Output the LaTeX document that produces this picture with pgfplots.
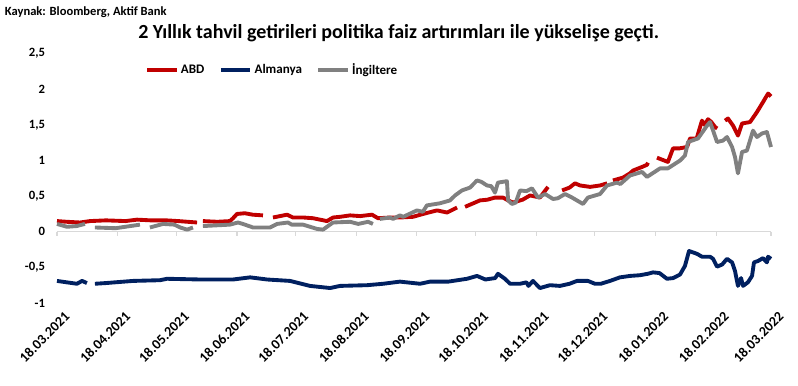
\documentclass[border=0pt]{standalone}
\usepackage{fontspec}
\setmainfont{Carlito}
\usepackage{pgfplots}
\pgfplotsset{compat=1.18}
\definecolor{abd}{RGB}{192,0,0}
\definecolor{alm}{RGB}{0,32,96}
\definecolor{ing}{RGB}{128,128,128}
\definecolor{zline}{RGB}{217,217,217}
\begin{document}
\begin{tikzpicture}
\useasboundingbox (0,0) rectangle (598.5pt,288.75pt);
\node[anchor=west, inner sep=0pt, font=\bfseries\fontsize{9.4}{10}\selectfont] at (3.5pt,279.5pt) {Kaynak: Bloomberg, Aktif Bank};
\node[inner sep=0pt, font=\bfseries\fontsize{15}{17}\selectfont] at (299pt,264pt) {2 Yıllık tahvil getirileri politika faiz artırımları ile yükselişe geçti.};
\begin{axis}[
  at={(42.75pt,61.5pt)}, anchor=south west,
  scale only axis, width=535.5pt, height=187pt,
  xmin=0, xmax=365, ymin=-1, ymax=2.5,
  axis line style={draw=none},
  major tick length=0pt,
  ytick={-1,-0.5,0,0.5,1,1.5,2,2.5},
  yticklabel style={font=\bfseries\fontsize{9.5}{11}\selectfont, xshift=-5.5pt},
  /pgf/number format/.cd, use comma, assume math mode=true, /pgfplots/.cd,
  xtick={0,31,61,92,122,153,184,214,245,275,306,337,365},
  xticklabels={18.03.2021,18.04.2021,18.05.2021,18.06.2021,18.07.2021,18.08.2021,18.09.2021,18.10.2021,18.11.2021,18.12.2021,18.01.2022,18.02.2022,18.03.2022},
  xticklabel style={font=\bfseries\fontsize{10.5}{12}\selectfont, rotate=45, anchor=north east, inner sep=1pt, xshift=0.5pt, yshift=-6.5pt},
  unbounded coords=jump,
  clip=false,
  legend style={at={(0.118,0.934)}, anchor=west, draw=none, fill=none, legend columns=3,
    font=\bfseries\fontsize{9.8}{11}\selectfont,
    /tikz/every even column/.append style={column sep=9pt}},
  legend image code/.code={\draw[#1, line width=2.6pt] (0pt,0pt) -- (22pt,0pt);},
]
\draw[zline, line width=0.8pt] (axis cs:0,0) -- (axis cs:365,0);
\pgfplotsinvokeforeach{0,31,61,92,122,153,184,214,245,275,306,337,365}{
  \draw[zline, line width=0.8pt] (axis cs:#1,0) -- ++(0pt,-3pt);
}
\addplot[abd, line width=2.9pt, line join=round] coordinates {
(0,0.15) (5,0.14) (11.8,0.13) (16.9,0.15) (25,0.16) (35,0.15) (40.9,0.17) (48,0.16) (56,0.16) (62,0.15) (71.6,0.13)
(72,nan)
(74.6,0.15) (82,0.14) (88.4,0.15) (90,0.19) (92,0.25) (96,0.26) (100,0.24) (105.3,0.23)
(107,nan)
(110.4,0.20) (114,0.22) (117.6,0.24) (120.6,0.20) (126,0.20) (130.9,0.19) (138,0.15) (141.1,0.20) (144.7,0.21) (149.8,0.23) (155,0.22) (161,0.24) (164.1,0.19) (170.2,0.20) (175.3,0.20) (182,0.21) (187.1,0.25) (194.3,0.30) (199.4,0.27) (204.5,0.34)
(206,nan)
(208.6,0.35) (216.2,0.44) (220,0.45) (223.9,0.48) (228,0.48) (230.6,0.44) (233.1,0.41) (238,0.45) (241.8,0.51) (246.9,0.48) (251,0.63)
(254,nan)
(258.2,0.58) (262,0.62) (264.8,0.68) (267.4,0.65) (272.5,0.63) (277.6,0.65) (281.2,0.68)
(282.5,nan)
(284.2,0.72) (289.3,0.76) (292.9,0.82) (294.5,0.86) (299.1,0.91) (301.6,0.94) (302.1,0.97)
(304,nan)
(306.7,1.04) (312.3,0.98) (314.9,1.17) (318,1.17) (322.1,1.19) (323.6,1.31) (327,1.31) (329.7,1.56) (331,1.50) (332.8,1.58) (334.5,1.54) (336.4,1.47) (337.5,1.45)
(339,nan)
(341.5,1.56) (343,1.59) (345.6,1.49) (348.1,1.35) (350.2,1.52) (354.3,1.54) (357.8,1.68) (360.9,1.82) (363.5,1.94) (365,1.90)
};
\addlegendentry{ABD}
\addplot[alm, line width=2.9pt, line join=round] coordinates {
(0,-0.69) (5,-0.71) (10.2,-0.73) (12.8,-0.69) (15.3,-0.72)
(17,nan)
(19.4,-0.73) (25,-0.72) (38.9,-0.69) (52.7,-0.68) (56.2,-0.66) (73.1,-0.67) (90,-0.67) (98.7,-0.64) (107.4,-0.67) (119.1,-0.69) (129.3,-0.76) (139.6,-0.79) (144.7,-0.76) (158.5,-0.75) (166.7,-0.73) (175.3,-0.70) (185.6,-0.73) (190.7,-0.70) (200,-0.70) (209.6,-0.66) (214.7,-0.62) (219,-0.67) (224,-0.65) (225.4,-0.59) (229,-0.66) (231.6,-0.73) (236.7,-0.73) (240,-0.71) (241,-0.76) (243.3,-0.69) (246.9,-0.79) (252,-0.75) (257.1,-0.76) (262,-0.73) (265.8,-0.69) (271.4,-0.69) (275,-0.73) (278,-0.73) (282.7,-0.69) (287.8,-0.64) (292.9,-0.62) (298,-0.61) (302,-0.59) (304.7,-0.57) (308,-0.58) (311.8,-0.66) (315,-0.65) (318.5,-0.60) (321,-0.48) (323.1,-0.27) (327.2,-0.31) (329.7,-0.35) (333.8,-0.35) (335.4,-0.38) (337.4,-0.49) (340,-0.46) (342.5,-0.38) (345.1,-0.43) (346.6,-0.55) (348.1,-0.76) (349.7,-0.65) (350.7,-0.76) (353.2,-0.71) (355.3,-0.62) (356.3,-0.43) (358.4,-0.41) (360.9,-0.37) (362.9,-0.43) (363.5,-0.35) (365,-0.38)
};
\addlegendentry{Almanya}
\addplot[ing, line width=2.9pt, line join=round] coordinates {
(0,0.11) (5.1,0.07) (10,0.08) (14.3,0.11)
(16.5,nan)
(19.4,0.06) (30,0.05) (42.4,0.10)
(45,nan)
(47.5,0.06) (54.2,0.11) (60,0.10) (63,0.06) (66.5,0.03) (69.5,0.06)
(72,nan)
(74.6,0.08) (88.4,0.10) (92.5,0.13) (95,0.11) (100.2,0.06) (108.9,0.06) (112.5,0.11) (118.1,0.13) (120,0.10) (125.8,0.10) (132.9,0.04) (136,0.03) (141.1,0.13) (149.8,0.14) (154,0.11) (159,0.14) (161.5,0.11)
(163,nan)
(165.1,0.18) (170.2,0.20) (171.8,0.18) (175.3,0.23) (177,0.21) (184,0.30) (187,0.28) (189.1,0.37) (195.8,0.40) (200.9,0.44) (203.5,0.51) (207,0.58) (211.1,0.62) (214.7,0.72) (217,0.70) (219.8,0.65) (222,0.64) (223.9,0.55) (225.4,0.69) (230,0.71) (230.6,0.44) (232.6,0.39) (234.5,0.41) (236.7,0.58) (240,0.57) (242.8,0.61) (245.9,0.48) (249.5,0.53) (253.6,0.46) (256,0.47) (259.7,0.53) (263.3,0.48) (268.9,0.39) (271.4,0.48) (277.6,0.53) (281.2,0.65) (286.3,0.69) (288,0.67) (292.9,0.79) (299.1,0.84) (301.6,0.77) (308.3,0.89) (312.3,0.89) (318.5,1.00) (321,1.07) (322.6,1.26) (327.7,1.31) (332.3,1.49) (333.8,1.54) (335.4,1.42) (337.4,1.26) (340.5,1.28) (342.5,1.33) (345.1,1.19) (346.6,1.05) (348.1,0.82) (350.2,1.12) (352.7,1.14) (355.8,1.42) (357.8,1.33) (360.4,1.38) (362.9,1.40) (365,1.19)
};
\addlegendentry{İngiltere}
\end{axis}
\end{tikzpicture}
\end{document}
